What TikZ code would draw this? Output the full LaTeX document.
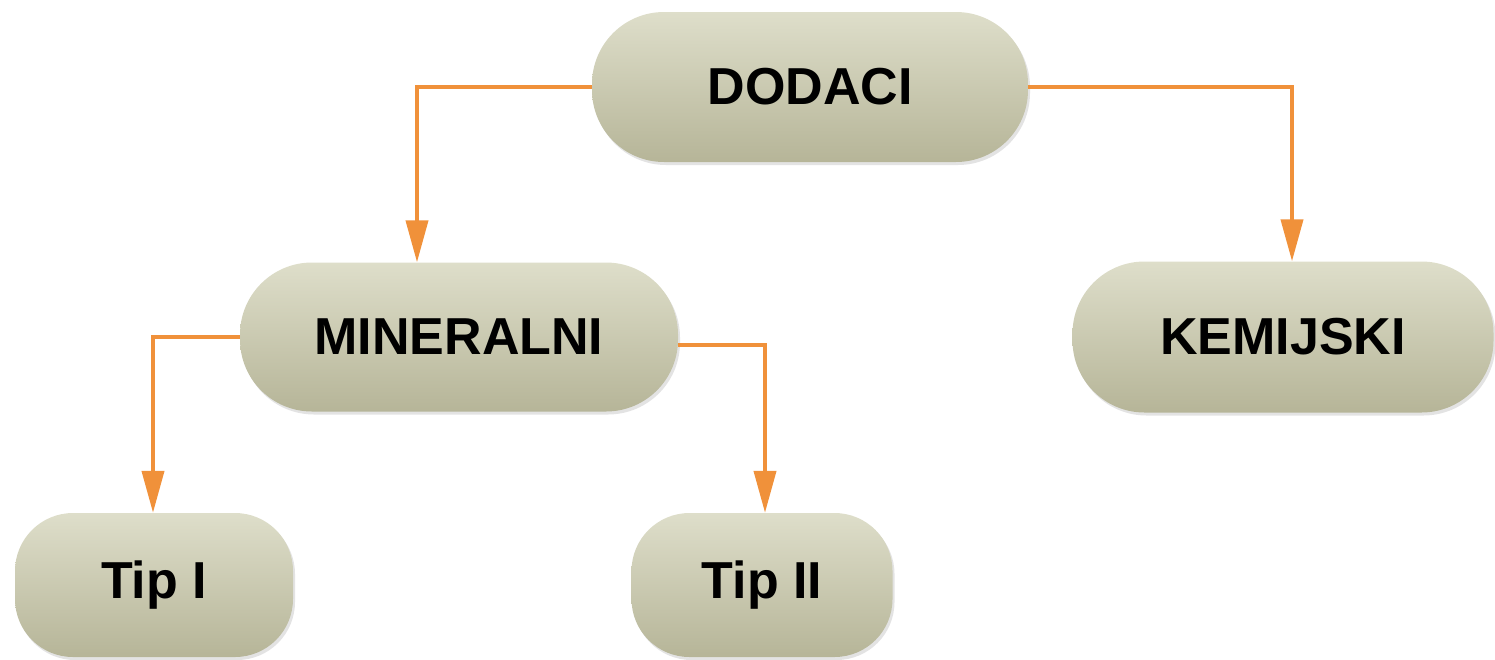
\documentclass[tikz,border=0pt]{standalone}
\usepackage{fontspec}
\setmainfont{Liberation Sans}
\usetikzlibrary{shadows,arrows.meta}
\definecolor{arrowc}{HTML}{F0913A}
\definecolor{topc}{HTML}{DEDECA}
\definecolor{botc}{HTML}{B6B598}
\tikzset{
  pill/.style={rounded corners=72pt, top color=topc, bottom color=botc, draw=none,
    drop shadow={shadow xshift=2pt, shadow yshift=-3pt, opacity=0.18, fill=black!60},
    font=\fontsize{52}{60}\selectfont\bfseries, inner sep=0pt, anchor=center},
  conn/.style={draw=arrowc, line width=4pt, -{Triangle[length=42pt,width=22pt]}}
}
\begin{document}
\begin{tikzpicture}[x=1pt,y=-1pt]
\useasboundingbox (0,0) rectangle (1495,659);
\node[pill, minimum width=436pt, minimum height=150pt] (dod) at (810,87) {DODACI};
\node[pill, minimum width=438pt, minimum height=149pt] (min) at (459,337) {MINERALNI};
\node[pill, minimum width=421pt, minimum height=151pt] (kem) at (1283,337) {KEMIJSKI};
\node[pill, rounded corners=58pt, minimum width=278pt, minimum height=144pt] (t1) at (154,585) {Tip I};
\node[pill, rounded corners=58pt, minimum width=261pt, minimum height=144pt] (t2) at (762,585) {Tip II};
\coordinate (a1) at (417,87);
\coordinate (a2) at (1292,87);
\coordinate (a3) at (153,337);
\coordinate (a4) at (765,345);
\draw[conn] (dod.west) -- (a1) -- (a1 |- min.north);
\draw[conn] (dod.east) -- (a2) -- (a2 |- kem.north);
\draw[conn] (min.west) -- (a3) -- (a3 |- t1.north);
\draw[conn] (min.east |- a4) -- (a4) -- (a4 |- t2.north);
\end{tikzpicture}
\end{document}
